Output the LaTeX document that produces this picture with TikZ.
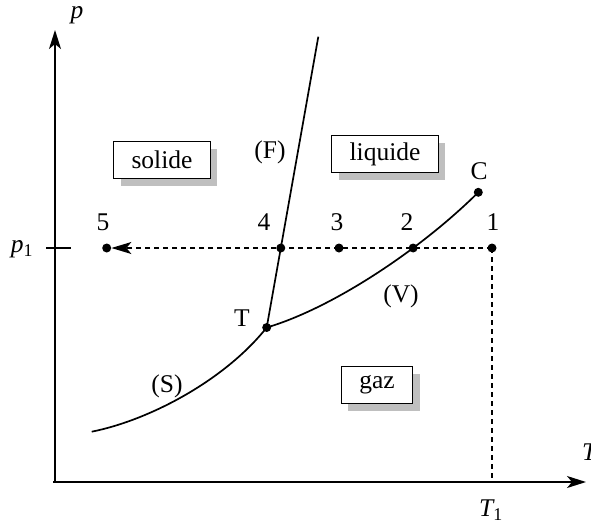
\documentclass[tikz,border=0pt]{standalone}
\usepackage{fontspec}
\setmainfont{Liberation Serif}
\usetikzlibrary{arrows.meta,shadows,intersections}
\begin{document}
\begin{tikzpicture}[x=1pt,y=-1pt,
  every node/.style={font=\fontsize{25.5}{28}\selectfont},
  axis/.style={line width=1.6pt,-{Stealth[length=19pt,width=12pt,inset=5pt]}},
  curve/.style={line width=1.7pt},
  dline/.style={line width=1.3pt,dash pattern=on 5pt off 4pt},
  dot/.style={circle,fill=black,inner sep=0pt,minimum size=9pt},
  phase/.style={draw,line width=1.5pt,fill=white,inner xsep=18pt,minimum height=37pt,
    drop shadow={shadow xshift=7pt,shadow yshift=-7pt,fill=black!25,opacity=1}},
  lab/.style={inner sep=0pt}]
\useasboundingbox (0,0) rectangle (591,525);
% axes
\coordinate (O) at (55,482);
\coordinate (Ox) at (53,482);
\coordinate (Ytop) at (55,30);
\coordinate (Xend) at (586,482);
\draw[axis] (O) -- (Ytop);
\draw[axis] (Ox) -- (Xend);
\node[lab] (plab) at (77,15) {\itshape p};
\node[lab,anchor=west] (Tlab) at (582,452) {\itshape T};
% p1 tick
\coordinate (tickL) at (46,248);
\coordinate (tickR) at (71,248);
\draw[line width=1.6pt] (tickL) -- (tickR);
\node[lab] (p1lab) at (22,249) {\itshape p\textsubscript{\upshape 1}};
% points
\node[dot] (T) at (266.7,327.5) {};
\node[dot] (C) at (478.3,192.3) {};
\node[dot] (P1) at (492,248) {};
\node[dot] (P3) at (339,248) {};
\node[dot] (P4) at (280.8,248) {};
\node[dot] (P5) at (106.7,248) {};
\coordinate (Ftop) at (318.3,36.7);
\coordinate (Sstart) at (91.7,431.7);
\coordinate (T1foot) at (492,482);
% curves
\draw[curve] (T.center) -- (Ftop);
\draw[curve] (Sstart) .. controls (150,420) and (225,380) .. (T.center);
\draw[curve,name path=vap] (T.center) .. controls (330,309) and (418,252) .. (C.center);
% dashed
\draw[dline] (P1.center) -- (T1foot);
\draw[dline,name path=hline,-{Stealth[length=20pt,width=12pt,inset=5pt]}] (P1.center) -- (P5.east);
\path[name intersections={of=vap and hline,by=I2}];
\node[dot] (P2) at (I2) {};
% labels
\node[lab] (l1) at (493,222) {1};
\node[lab] (l2) at (407,222) {2};
\node[lab] (l3) at (337,222) {3};
\node[lab] (l4) at (264,222) {4};
\node[lab] (l5) at (103,222) {5};
\node[lab] (lC) at (479,171) {C};
\node[lab] (lT) at (242,318) {T};
\node[lab] (lF) at (270,152) {(F)};
\node[lab] (lV) at (401,296) {(V)};
\node[lab] (lS) at (167,386) {(S)};
\node[lab] (T1lab) at (491,510) {\itshape T\textsubscript{\upshape 1}};
% phases
\node[phase] (solide) at (162,160) {solide};
\node[phase] (liquide) at (385,154) {liquide};
\node[phase] (gaz) at (377,385) {gaz};
\end{tikzpicture}
\end{document}
